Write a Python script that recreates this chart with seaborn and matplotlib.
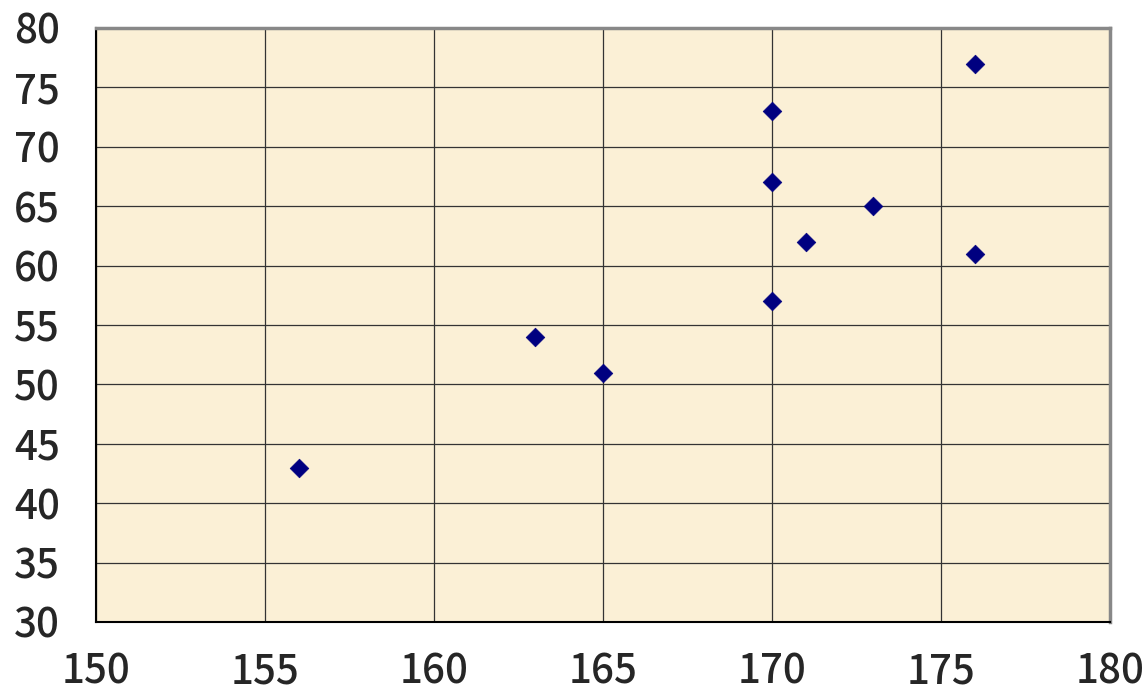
import numpy as np
import pandas as pd
import seaborn as sns
import matplotlib
matplotlib.use("Agg")
import matplotlib.pyplot as plt

# Data
height = [156, 163, 165, 170, 170, 170, 171, 173, 176, 176]
weight = [43, 54, 51, 73, 67, 57, 62, 65, 77, 61]
x_ticks = [150, 155, 160, 165, 170, 175, 180]
y_ticks = [30, 35, 40, 45, 50, 55, 60, 65, 70, 75, 80]

df = pd.DataFrame({"height": height, "weight": weight})

sns.set_style("white")
plt.rcParams['font.family'] = ['Noto Sans CJK JP', 'DejaVu Sans']

fig = plt.figure(figsize=(11.48, 6.94), dpi=100)
ax = fig.add_axes([96 / 1148, 72 / 694, 1014 / 1148, 594 / 694])
ax.set_facecolor('#FBF0D6')

sns.scatterplot(data=df, x='height', y='weight', ax=ax, marker='D',
                s=90, color='#000080', edgecolor='#000080', linewidth=0.5,
                zorder=3)

ax.set_xlim(150, 180)
ax.set_ylim(30, 80)
ax.set_xticks(x_ticks)
ax.set_yticks(y_ticks)
ax.grid(True, color='#333333', linewidth=0.9)
ax.set_axisbelow(True)
ax.set_xlabel('')
ax.set_ylabel('')
ax.tick_params(axis='x', length=0, pad=21, labelsize=29)
ax.tick_params(axis='y', length=0, pad=26, labelsize=29)
for lab in ax.get_xticklabels() + ax.get_yticklabels():
    lab.set_fontweight('medium')

for side in ['left', 'bottom']:
    ax.spines[side].set_color('black')
    ax.spines[side].set_linewidth(1.5)
for side in ['top', 'right']:
    ax.spines[side].set_color('#888888')
    ax.spines[side].set_linewidth(2.5)

fig.savefig('out.png', dpi=100)
